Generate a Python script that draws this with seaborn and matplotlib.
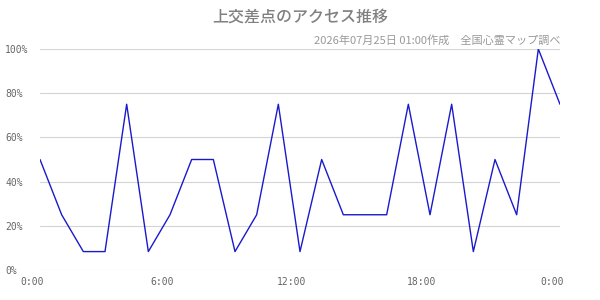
import matplotlib
matplotlib.use("Agg")
import matplotlib.pyplot as plt
import matplotlib.transforms as mtransforms
import seaborn as sns
import pandas as pd

hours = list(range(25))
access_pct = [50, 25, 8.33, 8.33, 75, 8.33, 25, 50, 50, 8.33, 25, 75, 8.33,
              50, 25, 25, 25, 75, 25, 75, 8.33, 50, 25, 100, 75]
x_ticks = [0, 6, 12, 18, 24]
x_labels = ["0:00", "6:00", "12:00", "18:00", "0:00"]
y_ticks = [0, 20, 40, 60, 80, 100]
y_labels = ["0%", "20%", "40%", "60%", "80%", "100%"]
title = "上交差点のアクセス推移"
subtitle = "2026年07月25日 01:00作成　全国心霊マップ調べ"

sns.set_theme(style="white")
plt.rcParams['font.family'] = ['Noto Sans CJK JP', 'DejaVu Sans']

df = pd.DataFrame({"hour": hours, "pct": access_pct})

fig = plt.figure(figsize=(6, 3), dpi=100)
ax = fig.add_axes([40/600, 1 - 270/300, 520/600, 221/300])
sns.lineplot(data=df, x="hour", y="pct", ax=ax, color="#1a1acc", linewidth=1.0)

ax.set_xlim(0, 24)
ax.set_ylim(0, 100)
ax.set_xticks(x_ticks)
ax.set_xticklabels(x_labels, family=['DejaVu Sans Mono'], fontsize=7, color="#666666")
ax.set_yticks(y_ticks)
ax.set_yticklabels(y_labels, family=['DejaVu Sans Mono'], fontsize=7, color="#666666", ha="left")
ax.tick_params(axis="y", length=0, pad=25)
ax.tick_params(axis="x", length=0, pad=5)
offset = mtransforms.ScaledTranslation(-8/100, 0, fig.dpi_scale_trans)
for lbl in ax.get_xticklabels():
    lbl.set_transform(lbl.get_transform() + offset)
ax.set_xlabel("")
ax.set_ylabel("")
ax.yaxis.grid(True, color="#d4d4d4", linewidth=0.8)
ax.xaxis.grid(False)
for s in ax.spines.values():
    s.set_visible(False)

fig.text(0.5, 1 - 17/300, title, ha="center", va="center", fontsize=11.5,
         color="#808080", fontweight="medium")
fig.text(561/600, 1 - 40/300, subtitle, ha="right", va="center", fontsize=8,
         color="#999999")

fig.savefig("out.png", dpi=100)
